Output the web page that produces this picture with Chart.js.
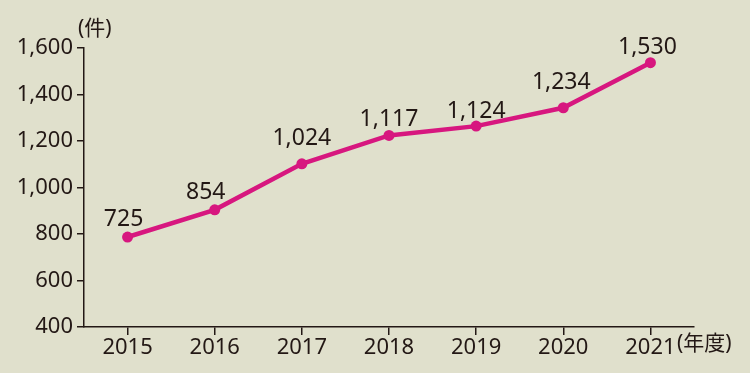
<!DOCTYPE html>
<html>
<head>
<meta charset="utf-8">
<script src="https://cdn.jsdelivr.net/npm/chart.js@4"></script>
<style>
  html, body { margin: 0; padding: 0; background: #e0e0cc; }
  #wrap { width: 750px; height: 373px; }
</style>
</head>
<body>
<div id="wrap"><canvas id="chart" width="750" height="373"></canvas></div>
<script>
'use strict';
// 年度ごとの件数
const years = ['2015', '2016', '2017', '2018', '2019', '2020', '2021'];
const plotted = [787, 904, 1102, 1224, 1264, 1343, 1537];   // 図中の点の位置
const valueLabels = ['725', '854', '1,024', '1,117', '1,124', '1,234', '1,530']; // 図中の数値表示
const yTicks = [400, 600, 800, 1000, 1200, 1400, 1600];

const INK = '#231815';
const LINE = '#d7177f';
const FONT = "'Noto Sans', 'Noto Sans CJK JP', sans-serif";

// ラベルの点からのずらし量（px）
const LABEL_DX = [-4, -9, 0, 0, 0, -2, -3];
const LABEL_DY = [18, 17, 25, 16, 15, 25, 15];

const labelsPlugin = {
    id: 'labels',
    afterDatasetsDraw(chart) {
        const ctx = chart.ctx;
        const meta = chart.getDatasetMeta(0);
        ctx.save();
        ctx.fillStyle = INK;
        ctx.font = '23px ' + FONT;
        ctx.textAlign = 'center';
        ctx.textBaseline = 'middle';
        meta.data.forEach((pt, i) => {
            ctx.fillText(valueLabels[i], pt.x + LABEL_DX[i], pt.y - LABEL_DY[i]);
        });
        const area = chart.chartArea;
        ctx.font = '21px ' + FONT;
        ctx.textAlign = 'left';
        ctx.fillText('(件)', 78, 29);
        ctx.fillText('(年度)', area.right - 17, 344);
        ctx.restore();
    }
};

new Chart(document.getElementById('chart'), {
    type: 'line',
    data: {
        labels: years,
        datasets: [{
            data: plotted,
            borderColor: LINE,
            backgroundColor: LINE,
            borderWidth: 4.5,
            pointRadius: 5.5,
            pointBorderWidth: 0,
            pointHoverRadius: 5.5,
            tension: 0,
        }],
    },
    options: {
        responsive: false,
        animation: false,
        layout: { padding: { top: 48, right: 56, bottom: 0, left: 0 } },
        plugins: { legend: { display: false }, tooltip: { enabled: false } },
        scales: {
            x: {
                offset: true,
                grid: { drawOnChartArea: false, tickLength: 8, color: INK, lineWidth: 1.5 },
                border: { display: true, color: INK, width: 1.5 },
                ticks: { color: INK, font: { size: 22, family: FONT }, padding: 0 },
                afterFit(scale) { scale.height = 46; },
            },
            y: {
                min: 400,
                max: 1600,
                afterBuildTicks(scale) { scale.ticks = yTicks.map(v => ({ value: v })); },
                grid: { drawOnChartArea: false, tickLength: 7, color: INK, lineWidth: 1.5 },
                border: { display: true, color: INK, width: 1.5 },
                ticks: {
                    color: INK,
                    font: { size: 22, family: FONT },
                    padding: 4,
                    callback: v => v.toLocaleString('en-US'),
                },
                afterFit(scale) { scale.width = 84; },
            },
        },
    },
    plugins: [labelsPlugin],
});
</script>
</body>
</html>
